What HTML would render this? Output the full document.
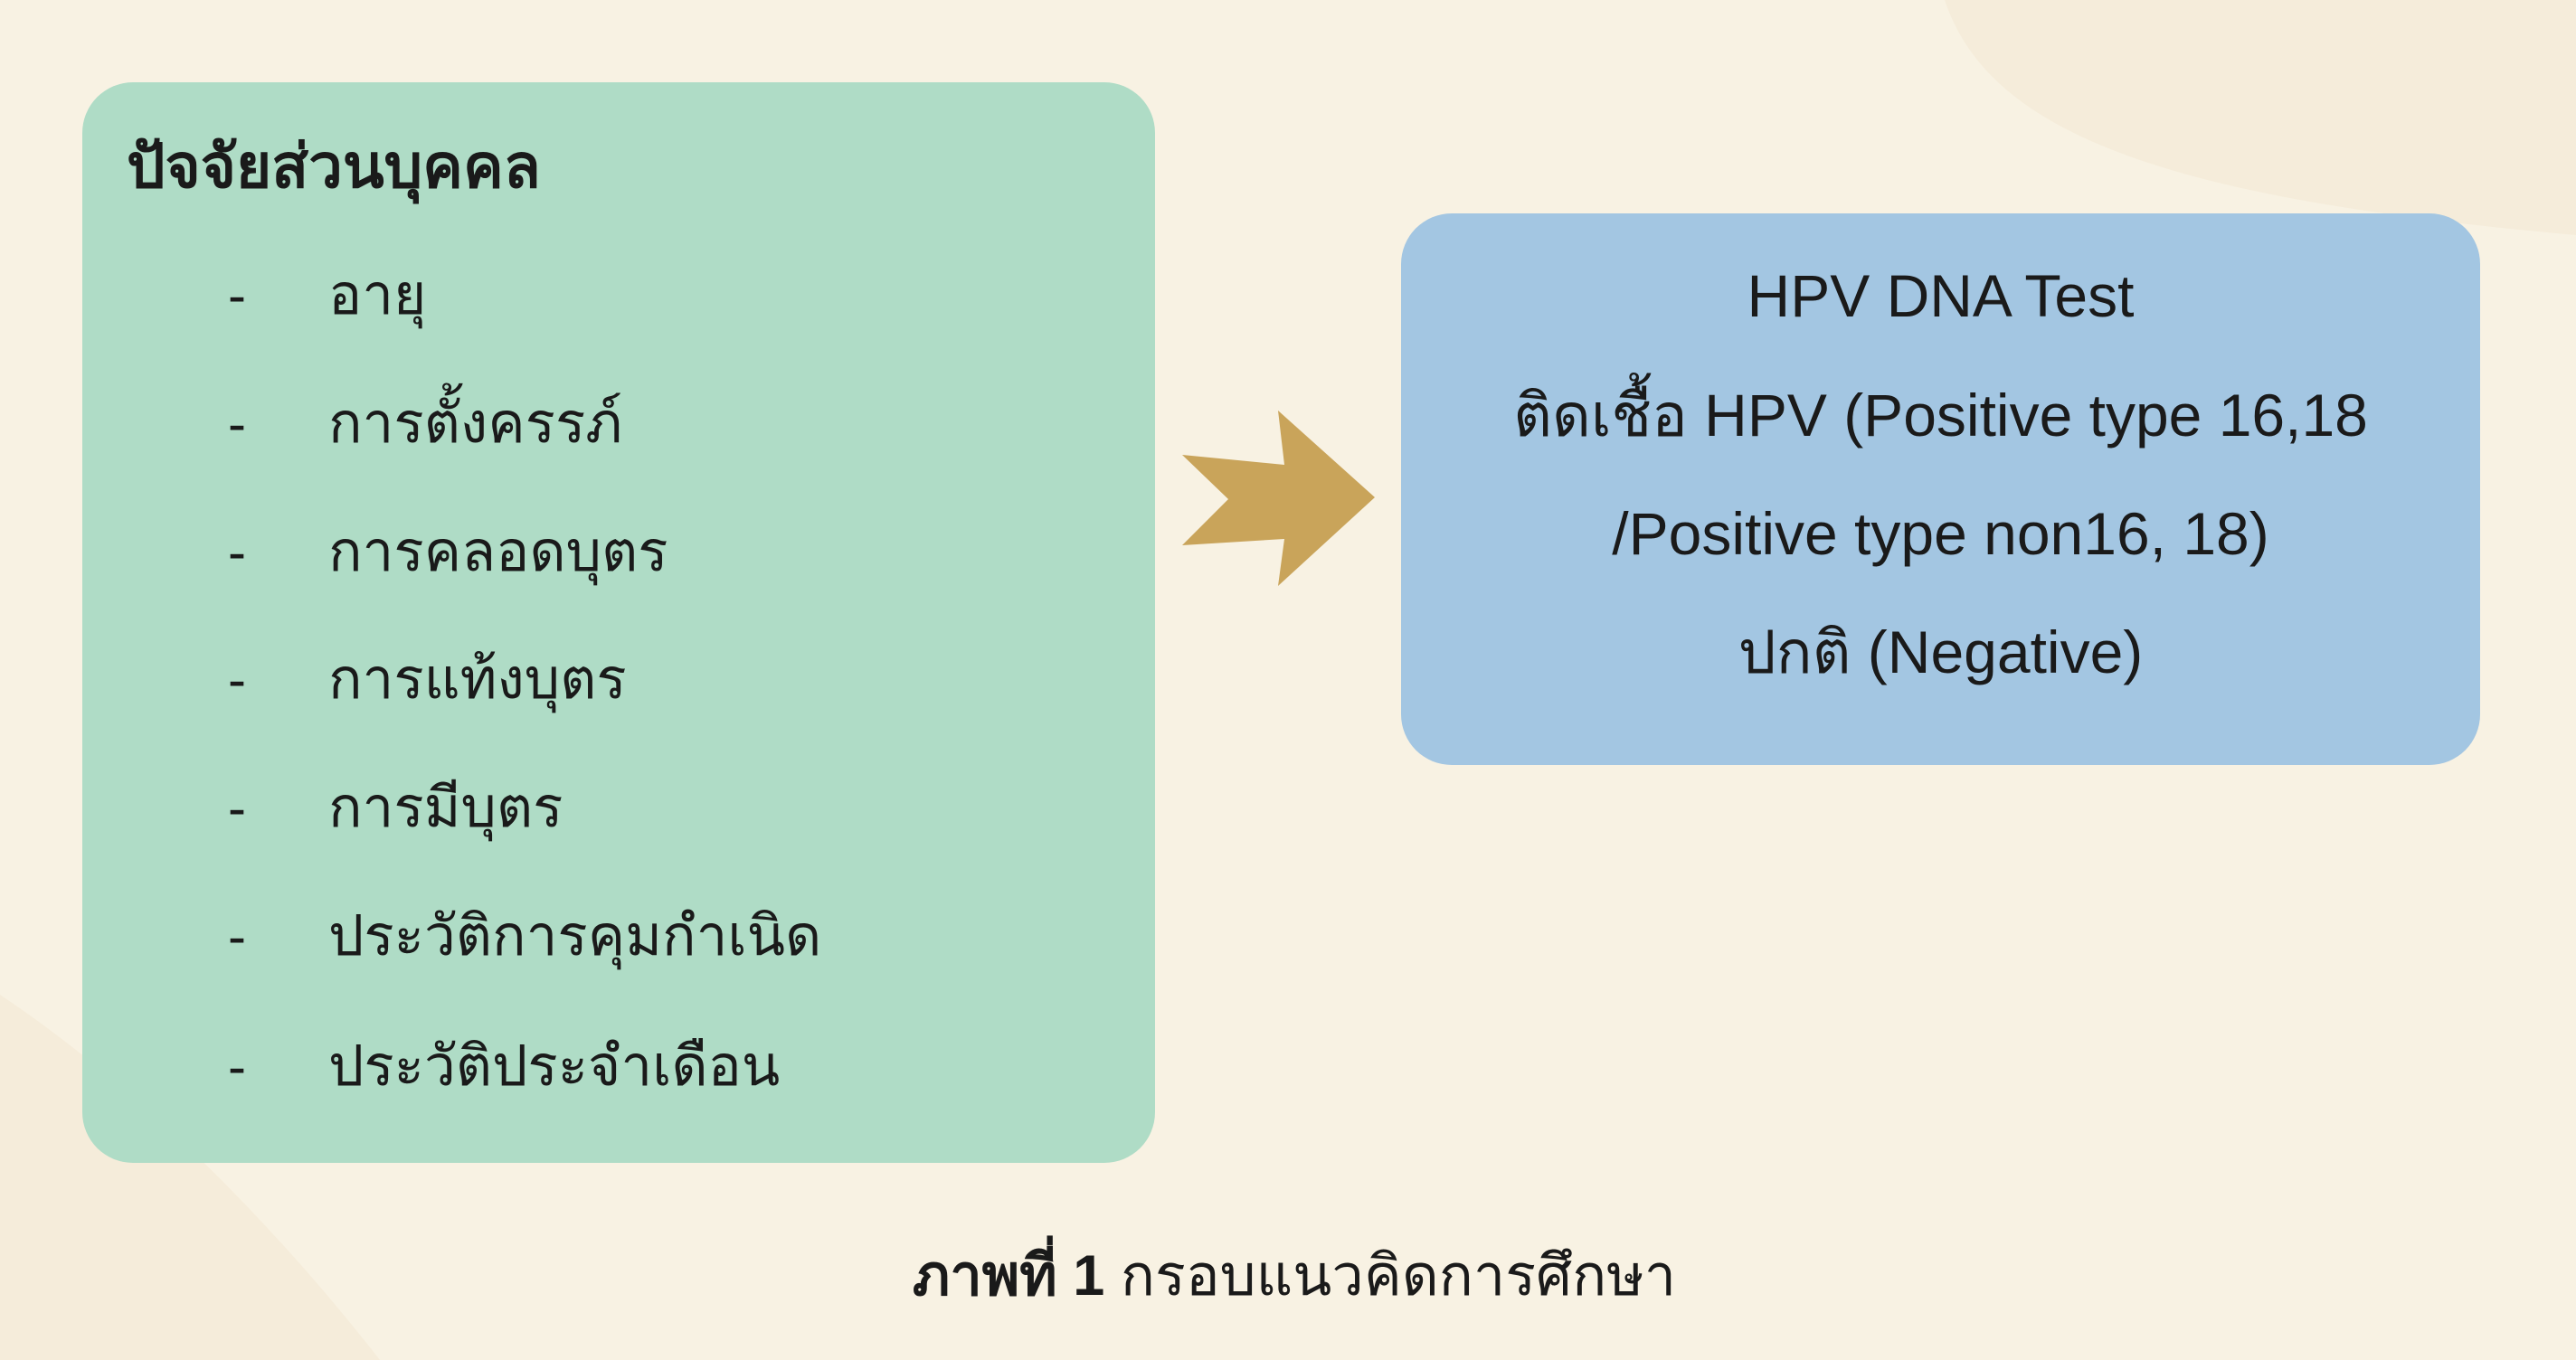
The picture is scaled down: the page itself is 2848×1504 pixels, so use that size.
<!DOCTYPE html>
<html><head><meta charset="utf-8"><style>
html,body{margin:0;padding:0}
body{width:2848px;height:1504px;background:#f8f2e3;position:relative;overflow:hidden;font-family:"Liberation Sans","DejaVu Sans",sans-serif;color:#1a1a1a}
.g{position:absolute;left:91px;top:91px;width:1186px;height:1195px;background:#afdcc6;border-radius:56px}
.b{position:absolute;left:1549px;top:236px;width:1193px;height:610px;background:#a3c6e2;border-radius:56px}
.t{position:absolute;left:140px;top:140px;font-size:67px;font-weight:bold;line-height:90px;white-space:nowrap}
.it{position:absolute;font-size:62px;line-height:90px;white-space:nowrap}
.d{position:absolute;left:252px;font-size:60px;line-height:90px}
.bl{position:absolute;left:1549px;width:1193px;text-align:center;font-size:66px;line-height:90px;white-space:nowrap}
.cap{position:absolute;left:0;width:2848px;top:1366px;text-align:center;font-size:63px;line-height:90px;padding-left:14px;box-sizing:border-box}
</style></head><body>
<svg style="position:absolute;left:0;top:0" width="2848" height="1504">
<path d="M2150 0 C2200 150 2400 220 2848 260 L2848 0Z" fill="#f5ecda"/>
<path d="M0 1100 C150 1200 300 1350 420 1504 L0 1504Z" fill="#f5ecda"/>
<polygon points="1307,503 1420,514 1413,454 1520,550 1413,648 1420,596 1307,603 1358,552" fill="#c9a45a"/>
</svg>
<div class="g"></div>
<div class="b"></div>
<div class="t">ปัจจัยส่วนบุคคล</div>
<div class="d" style="top:282px">-</div><div class="it" style="left:363px;top:282px">อายุ</div>
<div class="d" style="top:424px">-</div><div class="it" style="left:363px;top:424px">การตั้งครรภ์</div>
<div class="d" style="top:566px">-</div><div class="it" style="left:363px;top:566px">การคลอดบุตร</div>
<div class="d" style="top:707px">-</div><div class="it" style="left:363px;top:707px">การแท้งบุตร</div>
<div class="d" style="top:849px">-</div><div class="it" style="left:363px;top:849px">การมีบุตร</div>
<div class="d" style="top:991px">-</div><div class="it" style="left:363px;top:991px">ประวัติการคุมกำเนิด</div>
<div class="d" style="top:1135px">-</div><div class="it" style="left:363px;top:1135px">ประวัติประจำเดือน</div>
<div class="bl" style="top:282px">HPV DNA Test</div>
<div class="bl" style="top:414px">ติดเชื้อ HPV (Positive type 16,18</div>
<div class="bl" style="top:545px">/Positive type non16, 18)</div>
<div class="bl" style="top:676px">ปกติ (Negative)</div>
<div class="cap"><b>ภาพที่ 1</b> กรอบแนวคิดการศึกษา</div>
</body></html>
